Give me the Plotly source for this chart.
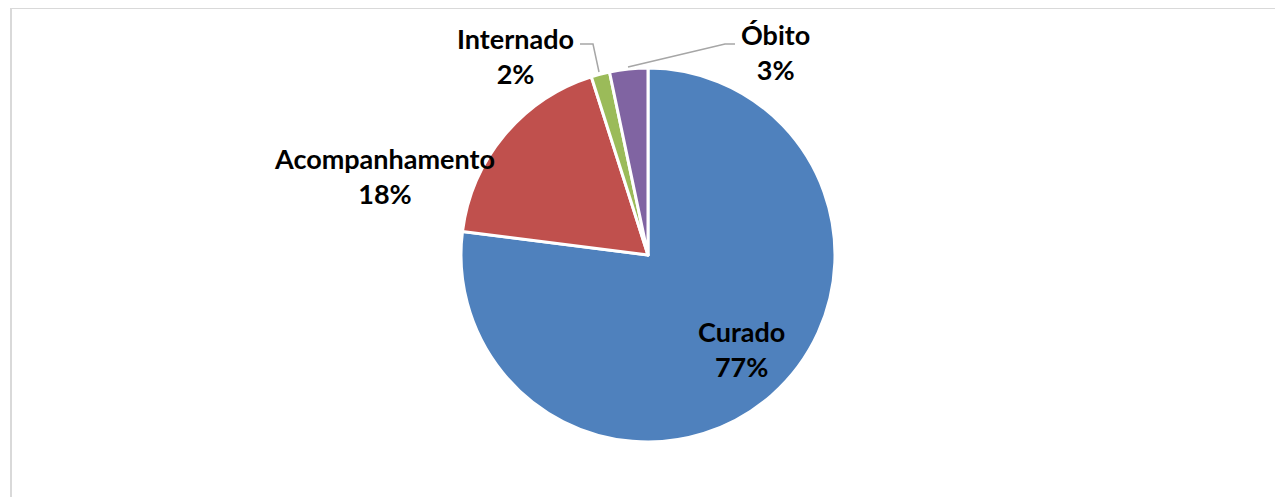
import plotly.graph_objects as go

# Dados
categorias = ["Curado", "Acompanhamento", "Internado", "Óbito"]
valores = [77.0, 18.1, 1.6, 3.3]
cores = ["#4F81BD", "#C0504D", "#9BBB59", "#8064A2"]

total = sum(valores)
pct = [f"{round(v / total * 100)}%" for v in valores]

W, H = 1283, 497
OFF = 8  # margem padrão do <body>
cx, cy, r = 648, 255, 187

def px(x):
    return (x - OFF) / W

def py(y):
    return 1 - (y - OFF) / H

fig = go.Figure()
fig.add_trace(go.Pie(
    labels=categorias,
    values=valores,
    sort=False,
    direction="clockwise",
    rotation=0,
    marker=dict(colors=cores, line=dict(color="white", width=3)),
    textinfo="none",
    domain=dict(x=[px(cx - r), px(cx + r)], y=[py(cy + r), py(cy - r)]),
    showlegend=False,
    hoverinfo="label+percent",
))

# Rótulos
rotulos = {
    0: (741, 349),
    1: (385, 176),
    2: (515, 56),
    3: (775, 52),
}
for i, (x, y) in rotulos.items():
    fig.add_annotation(
        x=px(x), y=py(y), xref="paper", yref="paper",
        text=f"<b>{categorias[i]}<br>{pct[i]}</b>",
        showarrow=False, xanchor="center", yanchor="middle",
        font=dict(family="Lato", size=27, color="black"),
        align="center",
    )

# Linhas de chamada
linha = dict(color="#A6A6A6", width=1.5)
fig.add_shape(type="path", xref="paper", yref="paper",
              path=f"M {px(580)} {py(44)} L {px(593)} {py(44)} L {px(599)} {py(72)}",
              line=linha)
fig.add_shape(type="path", xref="paper", yref="paper",
              path=f"M {px(628)} {py(67)} L {px(725)} {py(44)} L {px(735)} {py(44)}",
              line=linha)

# Moldura
fig.add_shape(type="rect", xref="paper", yref="paper",
              x0=px(11), x1=1.02, y0=-0.02, y1=py(8),
              line=dict(color="#D9D9D9", width=2))

fig.update_layout(
    width=W, height=H,
    margin=dict(l=0, r=0, t=0, b=0),
    paper_bgcolor="white",
    plot_bgcolor="white",
)

fig.write_html("out.html")
